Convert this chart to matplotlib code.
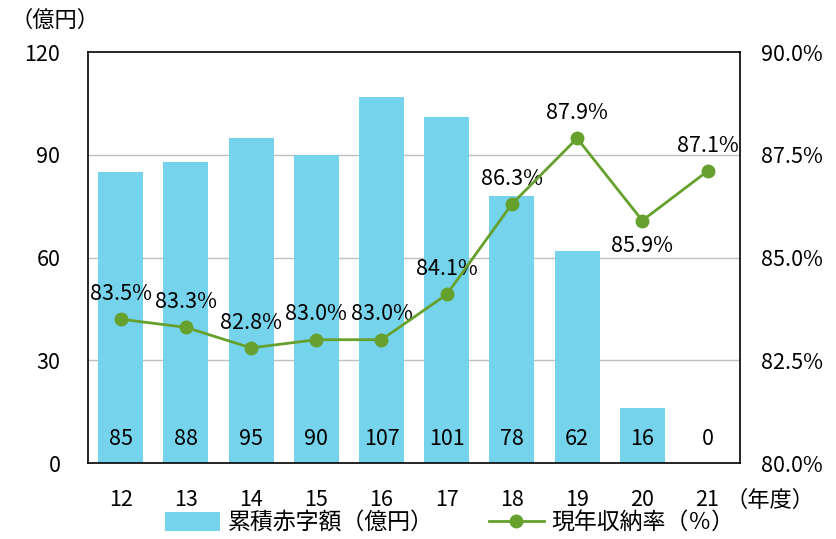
import matplotlib
matplotlib.use("Agg")
import matplotlib.pyplot as plt
from matplotlib.lines import Line2D
from matplotlib.patches import Patch

plt.rcParams['font.family'] = ['Noto Sans CJK JP', 'DejaVu Sans']

years = ["12", "13", "14", "15", "16", "17", "18", "19", "20", "21"]
deficit = [85, 88, 95, 90, 107, 101, 78, 62, 16, 0]
rate = [83.5, 83.3, 82.8, 83.0, 83.0, 84.1, 86.3, 87.9, 85.9, 87.1]
left_ticks = [0, 30, 60, 90, 120]
right_ticks = [80.0, 82.5, 85.0, 87.5, 90.0]

bar_color = "#75D3EB"
line_color = "#66A12E"
NUM_FS = 15.5

fig = plt.figure(figsize=(8.36, 5.39), dpi=100)
ax = fig.add_axes([0.1053, 0.141, 0.78, 0.7625])
x = list(range(len(years)))
ax.bar(x, deficit, width=0.69, color=bar_color, zorder=2)
ax.set_xlim(-0.5, len(years) - 0.5)
ax.set_ylim(0, 120)
ax.set_yticks(left_ticks)
ax.set_yticklabels([str(v) for v in left_ticks], fontsize=NUM_FS)
for g in left_ticks[1:-1]:
    ax.axhline(g, color="#BFBFBF", lw=1.0, zorder=1)
ax.tick_params(axis='both', length=0)
ax.tick_params(axis='y', pad=20)
ax.set_xticks(x)
ax.set_xticklabels(years, fontsize=NUM_FS)
ax.tick_params(axis='x', pad=19)
for s in ax.spines.values():
    s.set_linewidth(1.2)
    s.set_color("black")

for xi, v in zip(x, deficit):
    ax.text(xi, 7, str(v), ha='center', va='center', fontsize=NUM_FS, zorder=5)

ax2 = ax.twinx()
ax2.set_ylim(80, 90)
ax2.plot(x, rate, color=line_color, lw=2, marker='o', markersize=9, zorder=4)
ax2.set_yticks(right_ticks)
ax2.set_yticklabels([f"{v:.1f}%" for v in right_ticks], fontsize=NUM_FS)
ax2.tick_params(axis='y', length=0, pad=15)
for s in ax2.spines.values():
    s.set_visible(False)

for xi, v in zip(x, rate):
    if years[xi] == "20":
        ax2.text(xi, v - 0.35, f"{v:.1f}%", ha='center', va='top', fontsize=NUM_FS)
    else:
        ax2.text(xi, v + 0.35, f"{v:.1f}%", ha='center', va='bottom', fontsize=NUM_FS)

fig.text(0.012, 0.963, "（億円）", fontsize=16, ha='left', va='center')
fig.text(0.868, 0.072, "（年度）", fontsize=16, ha='left', va='center')

handles = [Patch(facecolor=bar_color, edgecolor='none'),
           Line2D([0], [0], color=line_color, lw=2, marker='o', markersize=9)]
labels = ["累積赤字額（億円）", "現年収納率（％）"]
fig.legend(handles, labels, loc='center', bbox_to_anchor=(0.538, 0.03), ncol=2,
           frameon=False, fontsize=16.5, handlelength=2.4, handleheight=0.9,
           columnspacing=2.4, handletextpad=0.35, borderpad=0)

fig.savefig("out.png", dpi=100)
